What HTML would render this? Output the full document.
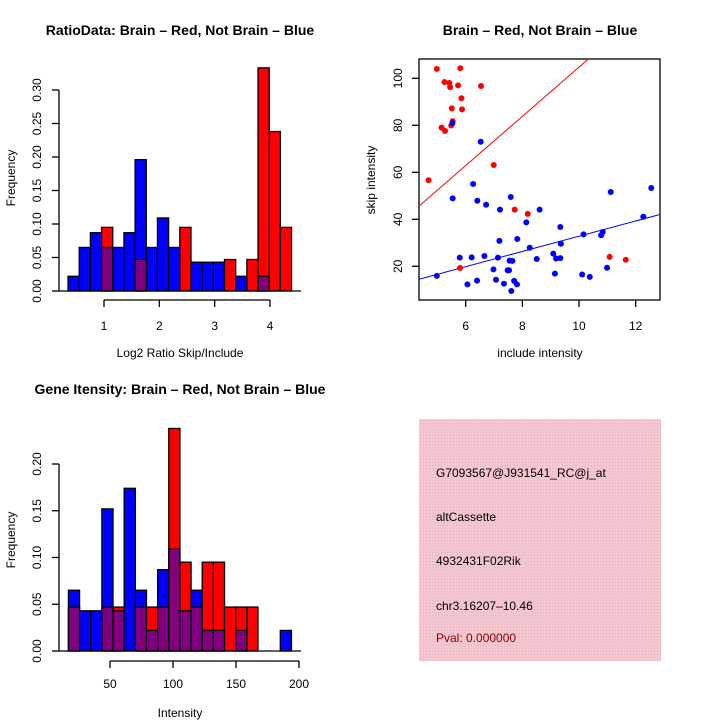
<!DOCTYPE html>
<html><head><meta charset="utf-8"><style>
html,body{margin:0;padding:0;background:#fff;}
svg{display:block;font-family:"Liberation Sans",sans-serif;}
</style></head><body>
<svg id="c" width="720" height="720" viewBox="0 0 720 720">
<defs>
<pattern id="hatch" width="3" height="3" patternUnits="userSpaceOnUse"><rect width="3" height="3" fill="#f4c6d0"/><rect width="1" height="1" fill="#eab2c0"/></pattern>
</defs>
</svg>
<script>
// ---- Ratio histogram data ----
const ratioBreakStart = 0.35;
const ratioBinWidth = 0.202;
const ratioBlue = [0.022,0.065,0.087,0.065,0.065,0.087,0.196,0.065,0.109,0.065,0,0.043,0.043,0.043,0,0.022,0,0.022,0,0];
const ratioRed  = [0,0,0,0.095,0,0,0.047,0,0,0,0.095,0,0,0,0.047,0,0.047,0.333,0.238,0.095];
const ratioXTicks = [1,2,3,4];
const ratioYTicks = ["0.00","0.05","0.10","0.15","0.20","0.25","0.30"];
// ---- Intensity histogram data ----
const intBreakStart = 17;
const intBinWidth = 8.85;
const intBlue = [0.065,0.043,0.043,0.152,0.043,0.174,0.065,0.022,0.087,0.109,0.043,0.065,0.022,0.022,0,0.022,0,0,0,0.022];
const intRed  = [0.047,0,0,0.047,0.047,0,0.047,0.047,0.047,0.238,0.095,0.047,0.095,0.095,0.047,0.047,0.047,0,0,0];
const intXTicks = [50,100,150,200];
const intYTicks = ["0.00","0.05","0.10","0.15","0.20"];
// ---- Scatter data ----
const redX = [4.98,5.81,5.25,5.42,5.45,5.73,6.54,5.85,5.51,5.87,5.54,5.49,5.15,5.27,4.69,6.99,7.73,8.19,5.80,11.08,11.65];
const redY = [104.0,104.3,98.4,98.0,96.2,97.0,96.7,91.5,87.2,86.8,81.8,79.9,79.0,77.6,56.6,63.1,44.1,42.3,19.3,24.0,22.8];
const blueX = [5.53,6.53,5.54,6.26,6.41,6.72,7.59,7.21,8.61,8.14,9.34,7.19,7.82,8.26,9.36,8.51,9.09,9.19,9.34,10.16,10.78,10.84,11.12,12.27,12.55,4.98,5.79,6.21,6.66,7.14,6.06,6.40,6.98,7.07,7.35,7.48,7.55,7.65,7.53,7.71,7.81,7.61,9.15,10.11,10.38,10.99];
const blueY = [80.9,73.0,48.9,55.0,47.9,46.2,49.5,44.1,44.1,38.7,36.7,30.8,31.6,27.9,29.6,23.1,25.4,23.3,23.5,33.6,33.2,34.6,51.6,41.1,53.3,15.9,23.7,23.8,24.4,23.7,12.3,13.9,18.7,14.3,12.6,18.3,22.4,22.3,18.3,13.8,12.3,9.5,16.9,16.5,15.5,19.4];
const redFit = [0.05,10.47];
const blueFit = [0.4,3.24];
const scXTicks = [6,8,10,12];
const scYTicks = [20,40,60,80,100];

const svg = document.getElementById('c');
const NS = 'http://www.w3.org/2000/svg';
function mk(tag, attrs, parent){
  const e = document.createElementNS(NS, tag);
  for (const k in attrs) e.setAttribute(k, attrs[k]);
  (parent||svg).appendChild(e);
  return e;
}
function txt(s, x, y, size, opts, parent){
  const t = mk('text', Object.assign({x:x, y:y, 'font-size':size, 'text-anchor':'middle', fill:'#000'}, opts||{}), parent);
  t.textContent = s;
  return t;
}

function histogram(name, blue, red, bStart, bW, xs, ys, yMax, yScaleFn, xTicks, yTicks, axisY, baseY, yTop, labelY){
  const g = mk('g', {});
  
  
  for (let i = 0; i < blue.length; i++){
    const x0 = xs(bStart + i*bW), x1 = xs(bStart + (i+1)*bW);
    const b = blue[i], r = red[i];
    const hi = Math.max(b, r), lo = Math.min(b, r);
    if (hi <= 0) continue;
    const hiCol = b >= r ? '#0000ff' : '#ff0000';
    const rc = mk('rect', {x:x0, y:ys(hi), width:x1-x0, height:ys(0)-ys(hi), fill:hiCol, stroke:'#000', 'stroke-width':1.3}, g);
    
    
    if (lo > 0){
      const p = mk('rect', {x:x0, y:ys(lo), width:x1-x0, height:ys(0)-ys(lo), fill:'#800080', stroke:'#000', 'stroke-width':1.3}, g);
      
      
    }
  }
  // baseline
  mk('line', {x1:59, x2:301, y1:ys(0), y2:ys(0), stroke:'#000', 'stroke-width':1.3}, g);
  // y axis
  const ya = mk('g', {}, g);
  
  
  const yvals = yTicks.map(Number);
  mk('line', {x1:59, x2:59, y1:ys(0), y2:ys(yvals[yvals.length-1]), stroke:'#000', 'stroke-width':1.3}, ya);
  yvals.forEach((v,i)=>{
    mk('line', {x1:52, x2:59, y1:ys(v), y2:ys(v), stroke:'#000', 'stroke-width':1.3}, ya);
    const t = txt(yTicks[i], 38, ys(v), 12, {transform:'rotate(-90 38 '+ys(v)+')', 'dominant-baseline':'middle'}, ya);
    
    
  });
  // x axis
  const xa = mk('g', {}, g);
  
  
  mk('line', {x1:xs(xTicks[0]), x2:xs(xTicks[xTicks.length-1]), y1:axisY, y2:axisY, stroke:'#000', 'stroke-width':1.3}, xa);
  xTicks.forEach(v=>{
    mk('line', {x1:xs(v), x2:xs(v), y1:axisY, y2:axisY+7, stroke:'#000', 'stroke-width':1.3}, xa);
    const t = txt(String(v), xs(v), labelY, 12, {}, xa);
    
    
  });
  return g;
}

// Ratio histogram
const rxs = v => 104 + (v-1)*55.33;
const rys = v => 291 - v*670;
histogram('ratio-histogram', ratioBlue, ratioRed, ratioBreakStart, ratioBinWidth, rxs, rys, 0.3, null, ratioXTicks, ratioYTicks, 300, 291, 90, 330);
let t;
t = txt('RatioData: Brain – Red, Not Brain – Blue', 180, 35, 14, {'font-weight':'bold'});
 
t = txt('Log2 Ratio Skip/Include', 180, 357, 12);
 
t = txt('Frequency', 12, 178, 12, {transform:'rotate(-90 12 178)', 'dominant-baseline':'middle'});
 

// Intensity histogram
const ixs = v => 110 + (v-50)*1.26;
const iys = v => 651 - v*935;
histogram('intensity-histogram', intBlue, intRed, intBreakStart, intBinWidth, ixs, iys, 0.2, null, intXTicks, intYTicks, 661, 651, 464, 688);
t = txt('Gene Itensity: Brain – Red, Not Brain – Blue', 180, 394, 14, {'font-weight':'bold'});
 
t = txt('Intensity', 180, 717, 12);
 
t = txt('Frequency', 12, 540, 12, {transform:'rotate(-90 12 540)', 'dominant-baseline':'middle'});
 

// Scatter
const sL=419, sR=660, sT=59, sB=300;
const sxs = v => 465.7 + (v-6)*28.33;
const sys = v => 78.3 - (v-100)*2.35;
const sxinv = p => 6 + (p-465.7)/28.33;
const sg = mk('g', {});


const clip = mk('clipPath', {id:'sclip'}, sg);
mk('rect', {x:sL, y:sT, width:sR-sL, height:sB-sT}, clip);
const box = mk('rect', {x:sL, y:sT, width:sR-sL, height:sB-sT, fill:'none', stroke:'#000', 'stroke-width':1.3}, sg);


[[redFit,'#ff0000','red-fit-line'],[blueFit,'#0000ff','blue-fit-line']].forEach(([f,c,n])=>{
  const xa = sxinv(sL), xb = sxinv(sR);
  const l = mk('line', {x1:sL, x2:sR, y1:sys(f[0]+f[1]*xa), y2:sys(f[0]+f[1]*xb), stroke:c, 'stroke-width':1, 'clip-path':'url(#sclip)'}, sg);
  
  
});
redX.forEach((x,i)=>{
  const c = mk('circle', {cx:sxs(x), cy:sys(redY[i]), r:3, fill:'#ff0000'}, sg);
  
  
});
blueX.forEach((x,i)=>{
  const c = mk('circle', {cx:sxs(x), cy:sys(blueY[i]), r:3, fill:'#0000ff'}, sg);
  
  
});
scXTicks.forEach(v=>{
  mk('line', {x1:sxs(v), x2:sxs(v), y1:sB, y2:sB+7, stroke:'#000', 'stroke-width':1.3}, sg);
  const tt = txt(String(v), sxs(v), 330, 12, {}, sg);
  
  
});
scYTicks.forEach(v=>{
  mk('line', {x1:sL-7, x2:sL, y1:sys(v), y2:sys(v), stroke:'#000', 'stroke-width':1.3}, sg);
  const tt = txt(String(v), 399, sys(v), 12, {transform:'rotate(-90 399 '+sys(v)+')', 'dominant-baseline':'middle'}, sg);
  
  
});
t = txt('Brain – Red, Not Brain – Blue', 540, 35, 14, {'font-weight':'bold'});
 
t = txt('include intensity', 540, 357, 12);
 
t = txt('skip intensity', 372, 180, 12, {transform:'rotate(-90 372 180)', 'dominant-baseline':'middle'});
 

// Info box
const ig = mk('g', {});


mk('rect', {x:419, y:419, width:242, height:242, fill:'url(#hatch)'}, ig);
const lines = [['G7093567@J931541_RC@j_at',477,'#000','probe-id'],['altCassette',521,'#000','event-type'],['4932431F02Rik',565,'#000','gene-name'],['chr3.16207–10.46',610,'#000','locus'],['Pval: 0.000000',642,'#8b0000','p-value']];
lines.forEach(([s,y,c,n])=>{
  const tt = txt(s, 436, y, 12, {'text-anchor':'start', fill:c}, ig);
  
  
});
</script>
</body></html>
